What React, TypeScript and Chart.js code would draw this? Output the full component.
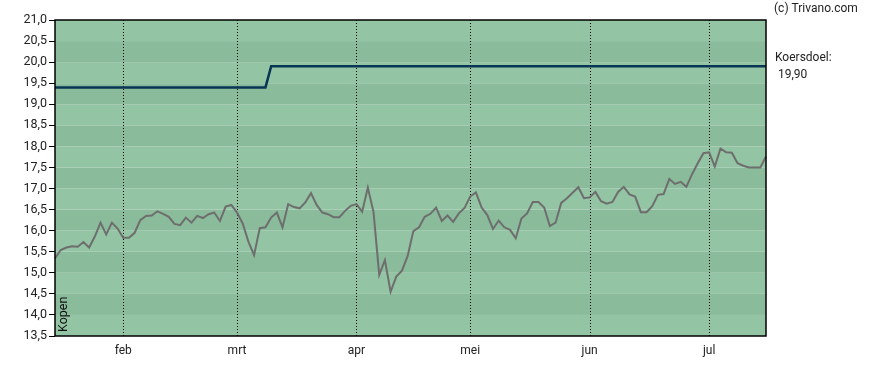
import { useEffect, useRef } from 'react';
import { Chart, registerables } from 'chart.js';

Chart.register(...registerables);

// Trading days shown on the x axis
const dates: string[] = [
  '2025-01-16', '2025-01-17', '2025-01-20', '2025-01-21', '2025-01-22', '2025-01-23', '2025-01-24', '2025-01-27', '2025-01-28', '2025-01-29', '2025-01-30', '2025-01-31',
  '2025-02-03', '2025-02-04', '2025-02-05', '2025-02-06', '2025-02-07', '2025-02-10', '2025-02-11', '2025-02-12', '2025-02-13', '2025-02-14', '2025-02-17', '2025-02-18', '2025-02-19', '2025-02-20', '2025-02-21', '2025-02-24', '2025-02-25', '2025-02-26', '2025-02-27', '2025-02-28',
  '2025-03-03', '2025-03-04', '2025-03-05', '2025-03-06', '2025-03-07', '2025-03-10', '2025-03-11', '2025-03-12', '2025-03-13', '2025-03-14', '2025-03-17', '2025-03-18', '2025-03-19', '2025-03-20', '2025-03-21', '2025-03-24', '2025-03-25', '2025-03-26', '2025-03-27', '2025-03-28', '2025-03-31',
  '2025-04-01', '2025-04-02', '2025-04-03', '2025-04-04', '2025-04-07', '2025-04-08', '2025-04-09', '2025-04-10', '2025-04-11', '2025-04-14', '2025-04-15', '2025-04-16', '2025-04-17', '2025-04-22', '2025-04-23', '2025-04-24', '2025-04-25', '2025-04-28', '2025-04-29', '2025-04-30',
  '2025-05-02', '2025-05-05', '2025-05-06', '2025-05-07', '2025-05-08', '2025-05-09', '2025-05-12', '2025-05-13', '2025-05-14', '2025-05-15', '2025-05-16', '2025-05-19', '2025-05-20', '2025-05-21', '2025-05-22', '2025-05-23', '2025-05-26', '2025-05-27', '2025-05-28', '2025-05-29', '2025-05-30',
  '2025-06-02', '2025-06-03', '2025-06-04', '2025-06-05', '2025-06-06', '2025-06-09', '2025-06-10', '2025-06-11', '2025-06-12', '2025-06-13', '2025-06-16', '2025-06-17', '2025-06-18', '2025-06-19', '2025-06-20', '2025-06-23', '2025-06-24', '2025-06-25', '2025-06-26', '2025-06-27', '2025-06-30',
  '2025-07-01', '2025-07-02', '2025-07-03', '2025-07-04', '2025-07-07', '2025-07-08', '2025-07-09', '2025-07-10', '2025-07-11', '2025-07-14', '2025-07-15',
];

// Closing prices
const prices: number[] = [
  15.34, 15.54, 15.60, 15.63, 15.62, 15.73, 15.60, 15.86, 16.19, 15.91, 16.19, 16.05,
  15.83, 15.83, 15.95, 16.25, 16.35, 16.36, 16.46, 16.40, 16.33, 16.16, 16.13, 16.31, 16.19, 16.35, 16.30, 16.39, 16.43, 16.23, 16.57, 16.61,
  16.43, 16.17, 15.74, 15.42, 16.06, 16.08, 16.31, 16.43, 16.08, 16.63, 16.56, 16.53, 16.67, 16.89, 16.61, 16.43, 16.39, 16.32, 16.32, 16.47, 16.59,
  16.63, 16.45, 17.02, 16.44, 14.95, 15.30, 14.55, 14.91, 15.05, 15.40, 15.99, 16.08, 16.33, 16.40, 16.55, 16.23, 16.36, 16.21, 16.41, 16.54,
  16.81, 16.91, 16.55, 16.37, 16.04, 16.24, 16.08, 16.02, 15.82, 16.29, 16.41, 16.68, 16.68, 16.55, 16.11, 16.19, 16.66, 16.77, 16.90, 17.03, 16.77,
  16.79, 16.92, 16.70, 16.64, 16.68, 16.92, 17.04, 16.86, 16.81, 16.44, 16.44, 16.58, 16.85, 16.87, 17.23, 17.11, 17.16, 17.04, 17.34, 17.60, 17.84,
  17.86, 17.52, 17.95, 17.86, 17.85, 17.60, 17.54, 17.50, 17.50, 17.50, 17.76,
];

// Koersdoel (price target) change points
const targetDates: string[] = ['2025-01-16', '2025-03-10', '2025-03-11', '2025-07-15'];
const targetValues: number[] = [19.4, 19.4, 19.9, 19.9];

const monthNames: string[] = ['jan', 'feb', 'mrt', 'apr', 'mei', 'jun', 'jul', 'aug', 'sep', 'okt', 'nov', 'dec'];

const yMin = 13.5;
const yMax = 21.0;
const yStep = 0.5;

const adviceLabel = 'Kopen';
const targetTitle = 'Koersdoel:';
const copyright = '(c) Trivano.com';

const fmt = (v: number, d: number) => v.toFixed(d).replace('.', ',');
const monthOf = (i: number) => parseInt(dates[i].slice(5, 7), 10) - 1;
const isMonthStart = (i: number) => i > 0 && monthOf(i) !== monthOf(i - 1);

const FONT = 'Roboto, "Noto Sans", sans-serif';

const decorPlugin = {
  id: 'decor',
  beforeDatasetsDraw(chart: any) {
    const { ctx, chartArea: a, scales } = chart;
    const x = scales.x;
    const y = scales.y;
    ctx.save();
    const ticks = y.ticks.map((t: any) => t.value).sort((p: number, q: number) => p - q);
    for (let k = 0; k < ticks.length - 1; k++) {
      const top = y.getPixelForValue(ticks[k + 1]);
      const bot = y.getPixelForValue(ticks[k]);
      ctx.fillStyle = k % 2 === 0 ? '#93c4a3' : '#8abb9b';
      ctx.fillRect(a.left, top, a.right - a.left, bot - top);
    }
    ctx.strokeStyle = '#000';
    ctx.lineWidth = 1;
    ctx.setLineDash([1, 2]);
    for (let i = 0; i < dates.length; i++) {
      if (!isMonthStart(i)) continue;
      const px = Math.round(x.getPixelForValue(i)) + 0.5;
      ctx.beginPath();
      ctx.moveTo(px, a.top);
      ctx.lineTo(px, a.bottom);
      ctx.stroke();
    }
    ctx.setLineDash([]);
    ctx.restore();
  },
  afterDraw(chart: any) {
    const { ctx, chartArea: a } = chart;
    ctx.save();
    ctx.strokeStyle = '#000';
    ctx.lineWidth = 1.5;
    ctx.strokeRect(a.left, a.top, a.right - a.left, a.bottom - a.top);

    // advice label, rotated
    ctx.fillStyle = '#111';
    ctx.font = `12.5px ${FONT}`;
    ctx.save();
    ctx.translate(a.left + 11.5, a.bottom - 4);
    ctx.rotate(-Math.PI / 2);
    ctx.textAlign = 'left';
    ctx.textBaseline = 'alphabetic';
    ctx.fillText(adviceLabel, 0, 0);
    ctx.restore();

    // right side texts
    ctx.font = `12px ${FONT}`;
    ctx.fillStyle = '#222';
    ctx.textAlign = 'left';
    ctx.textBaseline = 'middle';
    ctx.fillText(copyright, a.right + 8, 9);
    ctx.fillText(targetTitle, a.right + 9, 58);
    ctx.fillText(fmt(targetValues[targetValues.length - 1], 2), a.right + 12, 75);
    ctx.restore();
  },
};

export default function App() {
  const ref = useRef<HTMLCanvasElement | null>(null);

  useEffect(() => {
    document.body.style.margin = '0';
    const canvas = ref.current;
    if (!canvas) return;
    Chart.defaults.font.family = FONT;
    const chart = new Chart(canvas, {
      type: 'line',
      data: {
        labels: dates,
        datasets: [
          {
            label: 'Koers',
            data: prices,
            borderColor: '#6e6e6e',
            borderWidth: 2,
            pointRadius: 0,
            tension: 0,
            fill: false,
          },
          {
            label: 'Koersdoel',
            data: targetDates.map((d, i) => ({ x: d, y: targetValues[i] })) as any,
            borderColor: '#0a3656',
            borderWidth: 2.5,
            pointRadius: 0,
            tension: 0,
            fill: false,
          },
        ],
      },
      options: {
        animation: false,
        responsive: false,
        events: [],
        layout: { padding: { left: 0, top: 20, right: 122, bottom: 0 } },
        plugins: { legend: { display: false }, tooltip: { enabled: false } },
        scales: {
          x: {
            type: 'category',
            offset: false,
            afterFit: (s: any) => { s.height = 34; },
            grid: { display: false, drawTicks: false },
            border: { display: false },
            ticks: {
              autoSkip: false,
              maxRotation: 0,
              padding: 8,
              color: '#222',
              font: { size: 12 },
              callback: (_v: any, i: number) => (isMonthStart(i) ? monthNames[monthOf(i)] : ''),
            },
          },
          y: {
            min: yMin,
            max: yMax,
            afterFit: (s: any) => { s.width = 55; },
            grid: { drawOnChartArea: false, drawTicks: true, tickLength: 6, tickColor: '#000', lineWidth: 1 },
            border: { display: false },
            ticks: {
              stepSize: yStep,
              padding: 2,
              color: '#222',
              font: { size: 12.5 },
              callback: (v: any) => fmt(Number(v), 1),
            },
          },
        },
      },
      plugins: [decorPlugin],
    });
    return () => chart.destroy();
  }, []);

  return (
    <div style={{ position: 'absolute', left: 0, top: 0, width: 888, height: 370, background: '#fff' }}>
      <canvas ref={ref} width={888} height={370} style={{ width: 888, height: 370, display: 'block' }} />
    </div>
  );
}
